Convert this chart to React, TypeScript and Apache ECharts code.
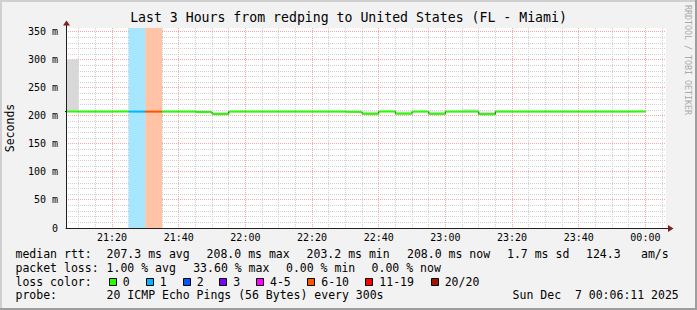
import { useEffect, useRef } from "react";
import * as echarts from "echarts";

// ---------------- data ----------------
const chartTitle = "Last 3 Hours from redping to United States (FL - Miami)";
const viewStart = "21:06:11";
const viewEnd = "00:06:11";
const stepMinutes = 5; // probe step, 300 s

const intervalStart = [
  "21:05", "21:10", "21:15", "21:20", "21:25", "21:30", "21:35", "21:40", "21:45", "21:50",
  "21:55", "22:00", "22:05", "22:10", "22:15", "22:20", "22:25", "22:30", "22:35", "22:40",
  "22:45", "22:50", "22:55", "23:00", "23:05", "23:10", "23:15", "23:20", "23:25", "23:30",
  "23:35", "23:40", "23:45", "23:50", "23:55",
];
// median round-trip time, ms
const medianRtt = [
  208.0, 207.9, 207.9, 208.0, 207.9, 207.9, 207.9, 207.9, 207.0, 203.5,
  207.9, 207.9, 207.9, 207.9, 207.9, 207.9, 207.9, 207.4, 204.0, 208.0,
  204.2, 207.9, 204.0, 207.9, 207.9, 203.2, 207.9, 207.9, 207.9, 207.9,
  207.9, 207.9, 207.9, 207.9, 208.0,
];
// upper edge of the smoke (ping spread), ms
const smokeTop = [
  301.0, 207.9, 207.9, 208.0, 207.9, 207.9, 207.9, 207.9, 208.2, 207.6,
  207.9, 207.9, 207.9, 207.9, 207.9, 207.9, 207.9, 208.4, 208.0, 208.0,
  208.0, 207.9, 208.0, 207.9, 212.0, 207.8, 209.6, 207.9, 207.9, 207.9,
  207.9, 207.9, 207.9, 207.9, 208.0,
];
// loss bucket index (into lossLabels)
const lossBucket = [
  0, 0, 0, 0, 1, 5, 0, 0, 0, 0,
  0, 0, 0, 0, 0, 0, 0, 0, 0, 0,
  0, 0, 0, 0, 0, 0, 0, 0, 0, 0,
  0, 0, 0, 0, 0,
];

const lossLabels = ["0", "1", "2", "3", "4-5", "6-10", "11-19", "20/20"];
const lossColors = ["#26ff00", "#00b8ff", "#0059ff", "#7e00ff", "#ff00ff", "#ff5500", "#ff0000", "#a01400"];

const xTickLabels = ["21:20", "21:40", "22:00", "22:20", "22:40", "23:00", "23:20", "23:40", "00:00"];
const yTickValues = [0, 50, 100, 150, 200, 250, 300, 350];
const yAxisTitle = "Seconds";

const rttStats = ["median rtt:", "207.3 ms avg", "208.0 ms max", "203.2 ms min", "208.0 ms now", "1.7 ms sd", "124.3", "am/s"];
const lossStats = ["packet loss:", "1.00 % avg", "33.60 % max", "0.00 % min", "0.00 % now"];
const lossColorTitle = "loss color:";
const probeRow = ["probe:", "20 ICMP Echo Pings (56 Bytes) every 300s", "Sun Dec  7 00:06:11 2025"];
const watermark = "RRDTOOL / TOBI OETIKER";

// ---------------- helpers ----------------
const toMin = (s: string) => {
  const p = s.split(":").map(Number);
  let h = p[0];
  if (h < 12) h += 24;
  return h * 60 + p[1] + (p[2] || 0) / 60;
};
const fmtMin = (v: number) => {
  const m = ((Math.round(v) % 1440) + 1440) % 1440;
  const hh = Math.floor(m / 60);
  const mm = m % 60;
  return String(hh).padStart(2, "0") + ":" + String(mm).padStart(2, "0");
};
const blend = (hex: string, a: number) => {
  const n = parseInt(hex.slice(1), 16);
  const c = [(n >> 16) & 255, (n >> 8) & 255, n & 255].map((v) => Math.round(255 - a * (255 - v)));
  return `rgb(${c[0]},${c[1]},${c[2]})`;
};

const FONT = '"DejaVu Sans Mono", monospace';
const X_MIN = toMin(viewStart);
const X_MAX = toMin(viewEnd);
const Y_MAX = 357.14;
const GRID_GRAY = "#d0d0d0";
const GRID_RED = "#f3a9a9";

function buildOption() {
  const starts = intervalStart.map(toMin);
  const ends = starts.map((s) => s + stepMinutes);

  const xMajor = xTickLabels.map(toMin);
  const xMinor: number[] = [];
  for (let t = Math.ceil(X_MIN / 5) * 5; t < X_MAX; t += 5) if (xMajor.indexOf(t) < 0) xMinor.push(t);
  const yMajor = yTickValues.filter((v) => v > 0);
  const yMinor: number[] = [];
  for (let v = 10; v < Y_MAX; v += 10) if (v % 50 !== 0) yMinor.push(v);

  const lossData = starts
    .map((s, i) => [s, ends[i], lossBucket[i]])
    .filter((d) => d[2] > 0);
  const smokeData = starts.map((s, i) => [s, ends[i], medianRtt[i], smokeTop[i]]);
  const segData = starts.map((s, i) => [s, ends[i], medianRtt[i], lossBucket[i]]);
  const stepData = starts.map((s, i) => [s, medianRtt[i]]);
  stepData.push([ends[ends.length - 1], medianRtt[medianRtt.length - 1]]);

  // grid lines drawn through the axis scales
  const vGrid = (vals: number[], color: string, z: number) => ({
    type: "custom",
    z,
    silent: true,
    clip: true,
    data: vals.map((v) => [v, 0]),
    renderItem: (params: any, api: any) => {
      const cs = params.coordSys;
      const p = api.coord([api.value(0), 0]);
      const x = Math.floor(p[0]) + 0.5;
      return {
        type: "line",
        shape: { x1: x, y1: cs.y, x2: x, y2: cs.y + cs.height },
        style: { stroke: color, lineWidth: 1, lineDash: [1, 1] },
      };
    },
  });
  const hGrid = (vals: number[], color: string, z: number) => ({
    type: "custom",
    z,
    silent: true,
    clip: true,
    data: vals.map((v) => [X_MIN, v]),
    renderItem: (params: any, api: any) => {
      const cs = params.coordSys;
      const p = api.coord([api.value(0), api.value(1)]);
      const y = Math.floor(p[1]) + 0.5;
      return {
        type: "line",
        shape: { x1: cs.x, y1: y, x2: cs.x + cs.width + 1, y2: y },
        style: { stroke: color, lineWidth: 1, lineDash: [1, 1] },
      };
    },
  });

  const txt = (text: string, x: number, y: number, extra: any = {}) => ({
    type: "text",
    x,
    y,
    z: 50,
    style: {
      text,
      x: 0,
      y: 0,
      fill: "#000",
      fontFamily: FONT,
      fontSize: 11.5,
      align: "left",
      textAlign: "left",
      verticalAlign: "middle",
      textVerticalAlign: "middle",
      ...extra,
    },
  });

  const rowY = [253.5, 267.5, 281.5, 295.3];
  const rttX = [15.5, 106.6, 206.6, 306.6, 407, 507, 586, 641];
  const lossX = [15.5, 106.6, 193.2, 286, 371.6];
  const probeX = [15.5, 106.6, 512.6];
  const boxX = [108.7, 145.7, 182.7, 219.3, 256, 307.3, 365.3, 430.7];

  const graphics: any[] = [];
  rttStats.forEach((s, i) => graphics.push(txt(s, rttX[i], rowY[0])));
  lossStats.forEach((s, i) => graphics.push(txt(s, lossX[i], rowY[1])));
  graphics.push(txt(lossColorTitle, 15.5, rowY[2]));
  lossLabels.forEach((s, i) => {
    graphics.push({
      type: "rect",
      z: 50,
      shape: { x: Math.round(boxX[i]) + 0.5, y: 278.5, width: 7, height: 7 },
      style: { fill: lossColors[i], stroke: "#000", lineWidth: 1 },
    });
    graphics.push(txt(s, boxX[i] + 14, rowY[2]));
  });
  probeRow.forEach((s, i) => graphics.push(txt(s, probeX[i], rowY[3])));

  // watermark
  graphics.push({
    type: "text",
    x: 688,
    y: 5,
    rotation: -Math.PI / 2,
    z: 50,
    style: {
      text: watermark,
      x: 0,
      y: 0,
      fill: "#aaaaaa",
      fontFamily: FONT,
      fontSize: 8.3,
      align: "left",
      textAlign: "left",
      verticalAlign: "middle",
      textVerticalAlign: "middle",
    },
  });
  // axis arrows
  graphics.push({ type: "line", z: 50, shape: { x1: 666, y1: 228.5, x2: 669, y2: 228.5 }, style: { stroke: "#1f1f1f", lineWidth: 1 } });
  graphics.push({ type: "polygon", z: 50, shape: { points: [[668, 225], [673.5, 228.5], [668, 232]] }, style: { fill: "#801f1f" } });
  graphics.push({ type: "line", z: 50, shape: { x1: 66.5, y1: 24, x2: 66.5, y2: 28.5 }, style: { stroke: "#1f1f1f", lineWidth: 1 } });
  graphics.push({ type: "polygon", z: 50, shape: { points: [[63, 25.5], [66.5, 20.5], [70, 25.5]] }, style: { fill: "#801f1f" } });
  // 3D frame
  graphics.push({ type: "rect", z: 60, shape: { x: 0, y: 0, width: 697, height: 2 }, style: { fill: "#cfcfcf" } });
  graphics.push({ type: "rect", z: 60, shape: { x: 0, y: 0, width: 2, height: 310 }, style: { fill: "#cfcfcf" } });
  graphics.push({ type: "rect", z: 60, shape: { x: 0, y: 308, width: 697, height: 2 }, style: { fill: "#9e9e9e" } });
  graphics.push({ type: "rect", z: 60, shape: { x: 695, y: 0, width: 2, height: 310 }, style: { fill: "#9e9e9e" } });

  return {
    animation: false,
    backgroundColor: "#f2f2f2",
    title: {
      text: chartTitle,
      left: "center",
      top: 11,
      padding: 0,
      textStyle: { fontFamily: FONT, fontSize: 13.2, fontWeight: "normal", color: "#000" },
    },
    grid: {
      left: 66,
      top: 28,
      width: 600,
      height: 200,
      show: true,
      backgroundColor: "#ffffff",
      borderWidth: 0,
      containLabel: false,
      outerBoundsMode: "none",
    },
    xAxis: [
      {
        type: "value",
        min: X_MIN,
        max: X_MAX,
        position: "bottom",
        z: 6,
        axisLine: { show: true, onZero: false, lineStyle: { color: "#1f1f1f", width: 1 } },
        axisTick: { show: false, customValues: xMajor },
        axisLabel: {
          customValues: xMajor,
          formatter: (v: number) => fmtMin(v),
          fontFamily: FONT,
          fontSize: 10,
          color: "#000",
          margin: 4,
        },
        splitLine: { show: false },
      },
    ],
    yAxis: [
      {
        type: "value",
        min: 0,
        max: Y_MAX,
        position: "left",
        z: 6,
        name: yAxisTitle,
        nameLocation: "middle",
        nameGap: 50,
        nameTextStyle: { fontFamily: FONT, fontSize: 11.5, color: "#000" },
        axisLine: { show: true, onZero: false, lineStyle: { color: "#1f1f1f", width: 1 } },
        axisTick: { show: false, customValues: yTickValues },
        axisLabel: {
          customValues: yTickValues,
          formatter: (v: number) => (v === 0 ? "0" : `${v} m`),
          fontFamily: FONT,
          fontSize: 10,
          color: "#000",
          margin: 8,
        },
        splitLine: { show: false },
      },
    ],
    series: [
      vGrid(xMinor, GRID_GRAY, 1),
      hGrid(yMinor, GRID_GRAY, 1),
      vGrid(xMajor, GRID_RED, 1.5),
      hGrid(yMajor, GRID_RED, 1.5),
      {
        type: "custom",
        name: "loss",
        z: 2,
        clip: true,
        silent: true,
        data: lossData,
        renderItem: (params: any, api: any) => {
          const cs = params.coordSys;
          const a = api.coord([api.value(0), 0]);
          const b = api.coord([api.value(1), 0]);
          return {
            type: "rect",
            shape: { x: a[0], y: cs.y, width: b[0] - a[0], height: cs.height },
            style: { fill: blend(lossColors[api.value(2)], 0.35) },
          };
        },
      },
      {
        type: "custom",
        name: "smoke",
        z: 3,
        clip: true,
        silent: true,
        data: smokeData,
        renderItem: (_params: any, api: any) => {
          const a = api.coord([api.value(0), api.value(3)]);
          const b = api.coord([api.value(1), api.value(2)]);
          return {
            type: "rect",
            shape: { x: a[0], y: a[1], width: b[0] - a[0], height: b[1] - a[1] },
            style: { fill: "#d8d8d8" },
          };
        },
      },
      {
        type: "line",
        name: "median-step",
        z: 4,
        step: "end",
        symbol: "none",
        silent: true,
        data: stepData,
        lineStyle: { color: "#202020", width: 1 },
      },
      {
        type: "custom",
        name: "median",
        z: 5,
        clip: true,
        silent: true,
        data: segData,
        renderItem: (_params: any, api: any) => {
          const a = api.coord([api.value(0), api.value(2)]);
          const b = api.coord([api.value(1), api.value(2)]);
          return {
            type: "line",
            shape: { x1: a[0], y1: a[1], x2: b[0], y2: b[1] },
            style: { stroke: lossColors[api.value(3)], lineWidth: 2 },
          };
        },
      },
    ],
    graphic: { elements: graphics },
  };
}

export default function App() {
  const ref = useRef<HTMLDivElement>(null);
  useEffect(() => {
    const chart = echarts.init(ref.current!, null, { renderer: "svg" });
    chart.setOption(buildOption() as any);
    return () => chart.dispose();
  }, []);
  return <div ref={ref} style={{ position: "absolute", left: 0, top: 0, width: 697, height: 310 }} />;
}
